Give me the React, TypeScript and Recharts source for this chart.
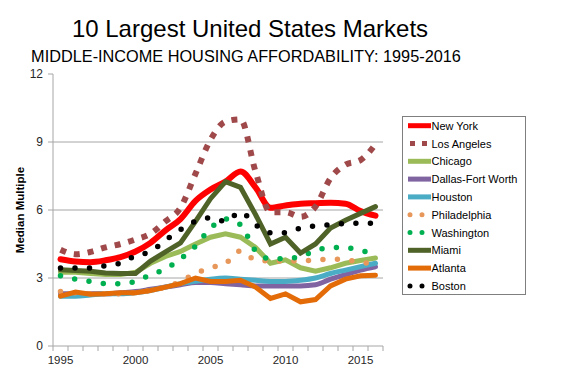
import { LineChart, Line, XAxis, YAxis, ReferenceLine } from 'recharts';

const years = [
  1995, 1996, 1997, 1998, 1999, 2000, 2001, 2002, 2003, 2004, 2005,
  2006, 2007, 2008, 2009, 2010, 2011, 2012, 2013, 2014, 2015, 2016,
];

const newYork = [3.83, 3.73, 3.7, 3.78, 3.92, 4.17, 4.55, 5.1, 5.6, 6.4, 6.9, 7.25, 7.7, 7.0, 6.1, 6.2, 6.28, 6.3, 6.32, 6.28, 5.95, 5.75];
const losAngeles = [4.25, 4.05, 4.15, 4.35, 4.5, 4.7, 4.95, 5.5, 6.1, 7.6, 9.1, 9.9, 10.0, 7.7, 5.9, 5.9, 5.7, 6.15, 7.4, 8.0, 8.2, 8.9];
const chicago = [3.25, 3.25, 3.2, 3.15, 3.15, 3.25, 3.65, 3.95, 4.17, 4.5, 4.8, 4.95, 4.8, 4.35, 3.65, 3.8, 3.45, 3.3, 3.45, 3.65, 3.77, 3.88];
const dallas = [2.3, 2.3, 2.3, 2.3, 2.35, 2.4, 2.5, 2.6, 2.7, 2.8, 2.8, 2.75, 2.7, 2.65, 2.65, 2.65, 2.65, 2.7, 2.95, 3.15, 3.35, 3.5];
const houston = [2.2, 2.2, 2.25, 2.3, 2.3, 2.35, 2.45, 2.6, 2.75, 2.85, 2.95, 3.0, 2.95, 2.9, 2.85, 2.85, 2.9, 3.0, 3.2, 3.35, 3.5, 3.65];
const philadelphia = [2.4, 2.35, 2.3, 2.3, 2.3, 2.35, 2.45, 2.6, 2.85, 3.2, 3.45, 3.65, 4.2, 3.8, 3.75, 3.75, 3.75, 3.8, 3.83, 3.8, 3.7, 3.6];
const washington = [3.1, 2.95, 2.85, 2.75, 2.75, 2.85, 3.15, 3.4, 3.85, 4.4, 5.2, 5.6, 5.35, 4.2, 3.85, 3.85, 3.95, 4.2, 4.35, 4.35, 4.2, 4.1];
const miami = [3.36, 3.33, 3.3, 3.22, 3.2, 3.2, 3.75, 4.15, 4.55, 5.5, 6.5, 7.25, 7.0, 5.8, 4.5, 4.8, 4.1, 4.5, 5.2, 5.55, 5.85, 6.15];
const atlanta = [2.2, 2.38, 2.28, 2.3, 2.35, 2.35, 2.45, 2.6, 2.75, 3.0, 2.85, 2.85, 2.9, 2.6, 2.1, 2.3, 1.95, 2.05, 2.65, 2.95, 3.1, 3.12];
const boston = [3.44, 3.44, 3.44, 3.54, 3.66, 3.98, 4.17, 4.66, 5.13, 5.5, 5.65, 5.5, 5.9, 5.35, 5.0, 5.0, 5.2, 5.3, 5.35, 5.4, 5.42, 5.42];

const yTicks = [0, 3, 6, 9, 12];
const yearLabels = [1995, 2000, 2005, 2010, 2015];

// series styling, drawn in legend order (later ones on top)
const series = [
  { key: 'ny', name: 'New York', values: newYork, color: '#FF0000', width: 6, kind: 'solid', curve: 'monotone' },
  { key: 'la', name: 'Los Angeles', values: losAngeles, color: '#A0494A', width: 6, kind: 'square', curve: 'monotone' },
  { key: 'chi', name: 'Chicago', values: chicago, color: '#9BBB59', width: 5, kind: 'solid', curve: 'linear' },
  { key: 'dfw', name: 'Dallas-Fort Worth', values: dallas, color: '#8064A2', width: 5, kind: 'solid', curve: 'monotone' },
  { key: 'hou', name: 'Houston', values: houston, color: '#4BACC6', width: 5, kind: 'solid', curve: 'monotone' },
  { key: 'phi', name: 'Philadelphia', values: philadelphia, color: '#E8975A', width: 5.5, kind: 'dot', curve: 'monotone' },
  { key: 'was', name: 'Washington', values: washington, color: '#00B050', width: 5.5, kind: 'dot', curve: 'monotone' },
  { key: 'mia', name: 'Miami', values: miami, color: '#4F6228', width: 5, kind: 'solid', curve: 'linear' },
  { key: 'atl', name: 'Atlanta', values: atlanta, color: '#E36C09', width: 5, kind: 'solid', curve: 'linear' },
  { key: 'bos', name: 'Boston', values: boston, color: '#000000', width: 5.5, kind: 'dot', curve: 'monotone' },
];

const data = years.map((year, i) => {
  const row: Record<string, number> = { year };
  series.forEach((s) => {
    row[s.key] = s.values[i];
  });
  return row;
});

// year boundaries for the minor tick marks, plus the labelled years
const boundaries = [...years.map((y) => y - 0.5), years[years.length - 1] + 0.5];
const xTicks = [...boundaries, ...yearLabels];

const AXIS = '#A6A6A6';
const FONT = '"Liberation Sans", Arial, sans-serif';

const XTick = (props: any) => {
  const { x, y, payload } = props;
  const v = payload.value;
  if (v % 1 !== 0) {
    return <line x1={x} x2={x} y1={y} y2={y + 5} stroke={AXIS} strokeWidth={1} />;
  }
  return (
    <text x={x} y={y + 18} textAnchor="middle" fontSize={11.5} fill="#262626" fontFamily={FONT}>
      {v}
    </text>
  );
};

const dashFor = (kind: string) => {
  if (kind === 'square') return { strokeDasharray: '6 8', strokeLinecap: 'butt' as const };
  if (kind === 'dot') return { strokeDasharray: '0 14.5', strokeLinecap: 'round' as const };
  return { strokeLinecap: 'round' as const };
};

const legendDash = (kind: string) => {
  if (kind === 'square') return { strokeDasharray: '5 7', strokeLinecap: 'butt' as const };
  if (kind === 'dot') return { strokeDasharray: '0 12', strokeLinecap: 'round' as const };
  return { strokeLinecap: 'butt' as const };
};

export default function App() {
  return (
    <div style={{ position: 'absolute', left: 0, top: 0, width: 562, height: 378, background: '#fff', fontFamily: FONT }}>
      <LineChart
        width={562}
        height={378}
        data={data}
        margin={{ top: 74, right: 179, bottom: 10, left: 33 }}
      >
        {[3, 6, 9].map((v) => (
          <ReferenceLine key={v} y={v} stroke={AXIS} strokeWidth={1} ifOverflow="extendDomain" />
        ))}
        <XAxis
          dataKey="year"
          type="number"
          domain={[1994.5, 2016.5]}
          ticks={xTicks}
          interval={0}
          tick={<XTick />}
          tickLine={false}
          tickSize={0}
          tickMargin={0}
          height={22}
          axisLine={{ stroke: AXIS }}
          allowDataOverflow
        />
        <YAxis
          domain={[0, 12]}
          ticks={yTicks}
          interval={0}
          width={20}
          tickSize={5}
          tickMargin={5}
          axisLine={{ stroke: AXIS }}
          tickLine={{ stroke: AXIS }}
          tick={{ fontSize: 12, fill: '#262626', fontFamily: FONT }}
        />
        {series.map((s) => (
          <Line
            key={s.key}
            dataKey={s.key}
            name={s.name}
            type={s.curve as any}
            stroke={s.color}
            strokeWidth={s.width}
            {...dashFor(s.kind)}
            dot={false}
            activeDot={false}
            isAnimationActive={false}
          />
        ))}
      </LineChart>

      <svg width={562} height={378} style={{ position: 'absolute', left: 0, top: 0, pointerEvents: 'none' }}>
        <text x={250} y={37} textAnchor="middle" fontSize={24} fill="#000" fontFamily={FONT}>
          10 Largest United States Markets
        </text>
        <text x={246} y={62} textAnchor="middle" fontSize={16.3} fill="#000" fontFamily={FONT}>
          MIDDLE-INCOME HOUSING AFFORDABILITY: 1995-2016
        </text>
        <text
          x={0}
          y={0}
          transform="translate(24, 210) rotate(-90)"
          textAnchor="middle"
          fontSize={11.5}
          fontWeight="bold"
          fill="#000"
          fontFamily={FONT}
        >
          Median Multiple
        </text>

        <rect x={402.5} y={116.5} width={123} height={178} fill="#fff" stroke="#7F7F7F" strokeWidth={1} />
        {series.map((s, i) => {
          const cy = 125.7 + i * 17.8;
          return (
            <g key={s.key}>
              <line
                x1={s.kind === 'solid' ? 408 : 410}
                x2={431}
                y1={cy}
                y2={cy}
                stroke={s.color}
                strokeWidth={s.kind === 'solid' ? 5 : 5}
                {...legendDash(s.kind)}
              />
              <text x={431.5} y={cy + 4} fontSize={11} fill="#000" fontFamily={FONT}>
                {s.name}
              </text>
            </g>
          );
        })}
      </svg>
    </div>
  );
}
